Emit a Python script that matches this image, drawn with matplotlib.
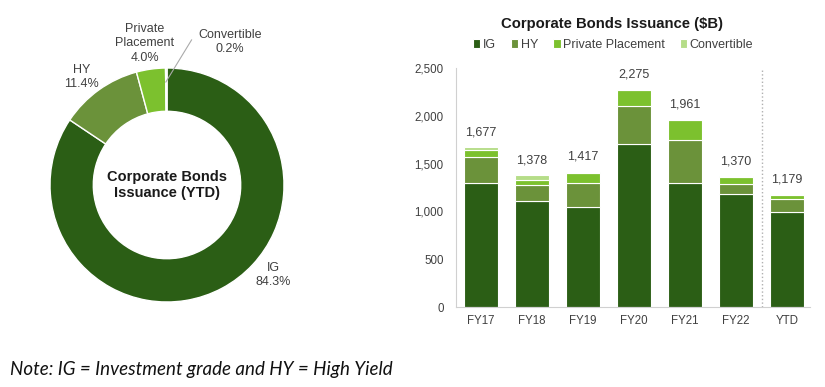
import matplotlib
matplotlib.use('Agg')
import matplotlib.pyplot as plt
import numpy as np

plt.rcParams['font.family'] = ['Liberation Sans', 'DejaVu Sans']

# donut data (YTD share, %)
pie_labels = ['IG', 'HY', 'Private\nPlacement', 'Convertible']
pie_values = [84.3, 11.4, 4.0, 0.2]

# bar data ($B)
years = ['FY17', 'FY18', 'FY19', 'FY20', 'FY21', 'FY22', 'YTD']
ig = [1300, 1110, 1045, 1700, 1300, 1178, 994]
hy = [270, 165, 250, 400, 445, 112, 134]
pp = [70, 55, 110, 165, 208, 70, 47]
conv = [37, 48, 12, 10, 8, 10, 4]
totals = [1677, 1378, 1417, 2275, 1961, 1370, 1179]
series_names = ['IG', 'HY', 'Private Placement', 'Convertible']

colors = ['#2b5e15', '#6b923a', '#7cc12e', '#b5dd88']
txt = '#404040'

fig = plt.figure(figsize=(8.25, 3.87), dpi=100)

# ---- donut ----
W, H = 825, 387
cx, cy, r = 167, 185, 117
axp = fig.add_axes([(cx - r) / W, (H - cy - r) / H, 2 * r / W, 2 * r / H])
axp.pie(pie_values, colors=colors, startangle=90, counterclock=False,
        radius=1, wedgeprops=dict(width=0.37, edgecolor='white', linewidth=1))
axp.set_xlim(-1, 1)
axp.set_ylim(-1, 1)
axp.set_aspect('auto')
axp.axis('off')
axp.text(0, 0, 'Corporate Bonds\nIssuance (YTD)', ha='center', va='center',
         fontsize=10.5, fontweight='bold', color='#1a1a1a', linespacing=1.25)

lab_pos = [(0.91, -0.77), (-0.73, 0.92), (-0.19, 1.21), (0.54, 1.22)]
for name, v, (x, y) in zip(pie_labels, pie_values, lab_pos):
    axp.text(x, y, '%s\n%.1f%%' % (name, v), ha='center', va='center',
             fontsize=9, color=txt, linespacing=1.25, clip_on=False)
axp.plot([0.21, -0.01], [1.24, 0.88], color='#aaaaaa', lw=0.8, clip_on=False)

# ---- stacked bars ----
axb = fig.add_axes([456 / W, 1 - 307 / H, (810 - 456) / W, (307 - 68) / H])
x = np.arange(len(years))
bottom = np.zeros(len(years))
for vals, c, name in zip([ig, hy, pp, conv], colors, series_names):
    axb.bar(x, vals, bottom=bottom, width=0.65, color=c, edgecolor='white',
            linewidth=0.8, label=name)
    bottom += np.array(vals)
for xi, t in zip(x, totals):
    axb.text(xi, t + 90, '{:,}'.format(t), ha='center', va='bottom',
             fontsize=9, color=txt)

axb.set_ylim(0, 2500)
axb.set_xlim(-0.49, 6.45)
axb.set_yticks(range(0, 2501, 500))
axb.set_yticklabels(['{:,}'.format(v) for v in range(0, 2501, 500)])
axb.set_xticks(x)
axb.set_xticklabels(years)
axb.tick_params(axis='both', length=0, labelsize=8.3, labelcolor=txt)
axb.tick_params(axis='y', pad=9)
axb.tick_params(axis='x', pad=6)
for s in ['top', 'right']:
    axb.spines[s].set_visible(False)
axb.spines['left'].set_color('#d0d0d0')
axb.spines['bottom'].set_color('#d0d0d0')
axb.axvline(5.5, color='#b0b0b0', ls=':', lw=1)

fig.text(612 / W, 1 - 24 / H, 'Corporate Bonds Issuance ($B)', ha='center',
         va='center', fontsize=10.7, fontweight='bold', color='#1a1a1a')
axb.legend(loc='center', bbox_to_anchor=(613 / W, 1 - 45 / H),
           bbox_transform=fig.transFigure, ncol=4, frameon=False, fontsize=9,
           handlelength=0.6, handleheight=0.7, handletextpad=0.2,
           columnspacing=1.2, labelcolor=txt)

fig.text(10 / W, 1 - 369 / H, 'Note: IG = Investment grade and HY = High Yield',
         ha='left', va='center', fontsize=13.5, style='italic', family='Lato',
         color='#111111')

fig.savefig('out.png', dpi=100, facecolor='white')
